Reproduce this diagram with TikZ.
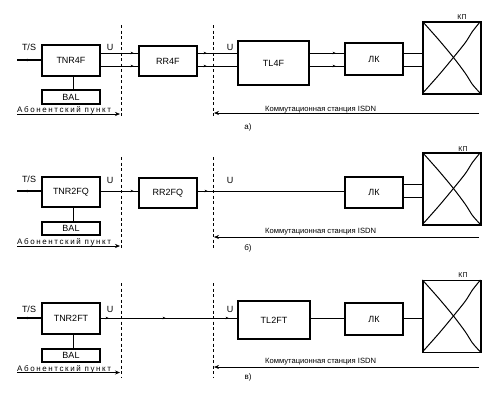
\documentclass[tikz,border=0pt]{standalone}
\usepackage{fontspec}
\setmainfont{Liberation Sans}
\newfontfamily\widefont[LetterSpace=20]{Liberation Sans}
\usetikzlibrary{arrows.meta,decorations.markings}
\newcommand\kpcross[1]{%
  \begin{scope}[shift={(#1.north west)}]
    \draw[conn] plot[smooth] coordinates {(0,0) (16,18) (31,36) (43,52) (50,63) (58,72)};
    \draw[conn] plot[smooth] coordinates {(0,72) (16,54) (31,36) (43,21) (50,10) (58,0)};
  \end{scope}}
\begin{document}
\begin{tikzpicture}[x=1pt,y=-1pt,
  box/.style={draw,line width=1.1pt,inner sep=0pt,minimum width=58pt,
    font=\fontsize{9}{10}\selectfont},
  conn/.style={line width=1pt},
  tsline/.style={line width=1.3pt},
  dline/.style={line width=0.7pt,dash pattern=on 3pt off 2.5pt},
  zone/.style={line width=0.6pt,-{Stealth[length=5pt,width=4pt]}},
  lbl/.style={font=\fontsize{9}{10}\selectfont,inner sep=0pt},
  small/.style={font=\fontsize{7}{8}\selectfont,inner sep=0pt},
  abon/.style={font=\widefont\fontsize{8}{9}\selectfont,inner sep=0pt,anchor=base west},
  stat/.style={font=\fontsize{7.6}{9}\selectfont,inner sep=0pt,anchor=base west},
  mk/.style={postaction={decorate},decoration={markings,
    mark=at position #1 with {\arrow{Stealth[length=3pt,width=2.6pt]}}}},
  mkthree/.style n args={3}{postaction={decorate},decoration={markings,
    mark=at position #1 with {\arrow{Stealth[length=3pt,width=2.6pt]}},
    mark=at position #2 with {\arrow{Stealth[length=3pt,width=2.6pt]}},
    mark=at position #3 with {\arrow{Stealth[length=3pt,width=2.6pt]}}}}
]
\useasboundingbox[fill=white] (0,0) rectangle (496,400);

% ================= a) =================
\coordinate (tsa) at (17,60);
\node[box,minimum height=31pt] (TNRa) at (71,60.5) {TNR4F};
\node[box,minimum height=14pt] (BALa) at (71,97) {BAL};
\node[box,minimum height=30pt] (RRa) at (168,61) {RR4F};
\node[box,minimum width=71pt,minimum height=44pt] (TLa) at (273.5,63) {TL4F};
\node[box,minimum height=32pt] (LKa) at (374,59) {ЛК};
\node[box,minimum height=72pt] (KPa) at (452,58) {};
\kpcross{KPa}
\node[small] (KPla) at (462,17) {КП};
\node[lbl] (TSla) at (29,47) {T/S};
\node[lbl] (U1a) at (110,47) {U};
\node[lbl] (U2a) at (230,47) {U};
\draw[tsline,mk=13pt] (tsa) -- (TNRa.west |- tsa);
\draw[conn] ([xshift=2pt]TNRa.south) -- ([xshift=2pt]BALa.north);
\draw[conn,mk=33pt] (TNRa.east |- 0,53) -- (RRa.west |- 0,53);
\draw[conn,mk=33pt] (TNRa.east |- 0,66) -- (RRa.west |- 0,66);
\draw[conn,mk=9pt] (RRa.east |- 0,53) -- (TLa.west |- 0,53);
\draw[conn,mk=9pt] (RRa.east |- 0,66) -- (TLa.west |- 0,66);
\draw[conn,mk=26pt] (TLa.east |- 0,53) -- (LKa.west |- 0,53);
\draw[conn,mk=26pt] (TLa.east |- 0,66) -- (LKa.west |- 0,66);
\draw[conn] (LKa.east |- 0,53) -- (KPa.west |- 0,53);
\draw[conn] (LKa.east |- 0,66) -- (KPa.west |- 0,66);
\draw[dline] (121,25) -- (121,118);
\draw[dline] (213,25) -- (213,118);
\node[abon] (ABa) at (17,112) {Абонентский пункт};
\draw[zone] (17,114) -- (120,114);
\node[stat] (STa) at (265,111) {Коммутационная станция ISDN};
\draw[zone] (479,113) -- (214,113);
\node[small,font=\fontsize{8}{9}\selectfont] (CAPa) at (248,127) {а)};

% ================= б) =================
\coordinate (tsb) at (17,191);
\node[box,minimum height=30pt] (TNRb) at (71,192) {TNR2FQ};
\node[box,minimum height=13pt] (BALb) at (71,228.5) {BAL};
\node[box,minimum height=30pt] (RRb) at (168,193) {RR2FQ};
\node[box,minimum height=31pt] (LKb) at (374,192.5) {ЛК};
\node[box,minimum height=72pt] (KPb) at (452,189) {};
\kpcross{KPb}
\node[small] (KPlb) at (463,149) {КП};
\node[lbl] (TSlb) at (29,179) {T/S};
\node[lbl] (U1b) at (110,180) {U};
\node[lbl] (U2b) at (230,180) {U};
\draw[tsline,mk=13pt] (tsb) -- (TNRb.west |- tsb);
\draw[conn] ([xshift=2pt]TNRb.south) -- ([xshift=2pt]BALb.north);
\draw[conn,mk=33pt] (TNRb.east |- 0,191) -- (RRb.west |- 0,191);
\draw[conn,mk=10pt] (RRb.east |- 0,191) -- (LKb.west |- 0,191);
\draw[conn] (LKb.east |- 0,184) -- (KPb.west |- 0,184);
\draw[conn] (LKb.east |- 0,197) -- (KPb.west |- 0,197);
\draw[dline] (121,157) -- (121,248);
\draw[dline] (213,157) -- (213,248);
\node[abon] (ABb) at (17,244) {Абонентский пункт};
\draw[zone] (17,246) -- (120,246);
\node[stat] (STb) at (265,233) {Коммутационная станция ISDN};
\draw[zone] (479,237) -- (214,237);
\node[small,font=\fontsize{8}{9}\selectfont] (CAPb) at (248,248) {б)};

% ================= в) =================
\coordinate (tsc) at (17,318);
\node[box,minimum height=31pt] (TNRc) at (71,318.5) {TNR2FT};
\node[box,minimum height=13pt] (BALc) at (71,355.5) {BAL};
\node[box,minimum width=72pt,minimum height=38pt] (TLc) at (274,320) {TL2FT};
\node[box,minimum height=32pt] (LKc) at (374,319) {ЛК};
\node[box,minimum height=72pt] (KPc) at (452,316.5) {};
\kpcross{KPc}
\node[small] (KPlc) at (463,275) {КП};
\node[lbl] (TSlc) at (29,309) {T/S};
\node[lbl] (U1c) at (110,309) {U};
\node[lbl] (U2c) at (230,309) {U};
\draw[tsline,mk=13pt] (tsc) -- (TNRc.west |- tsc);
\draw[conn] ([xshift=2pt]TNRc.south) -- ([xshift=2pt]BALc.north);
\draw[conn,mkthree={8pt}{65pt}{128pt}] (TNRc.east |- 0,318) -- (TLc.west |- 0,318);
\draw[conn] (TLc.east |- 0,318) -- (LKc.west |- 0,318);
\draw[conn] (LKc.east |- 0,318) -- (KPc.west |- 0,318);
\draw[dline] (121,283) -- (121,378);
\draw[dline] (213,283) -- (213,378);
\node[abon] (ABc) at (17,371) {Абонентский пункт};
\draw[zone] (17,372.5) -- (120,372.5);
\node[stat] (STc) at (265,363) {Коммутационная станция ISDN};
\draw[zone] (479,367) -- (214,367);
\node[small,font=\fontsize{8}{9}\selectfont] (CAPc) at (248,377) {в)};
\end{tikzpicture}
\end{document}
